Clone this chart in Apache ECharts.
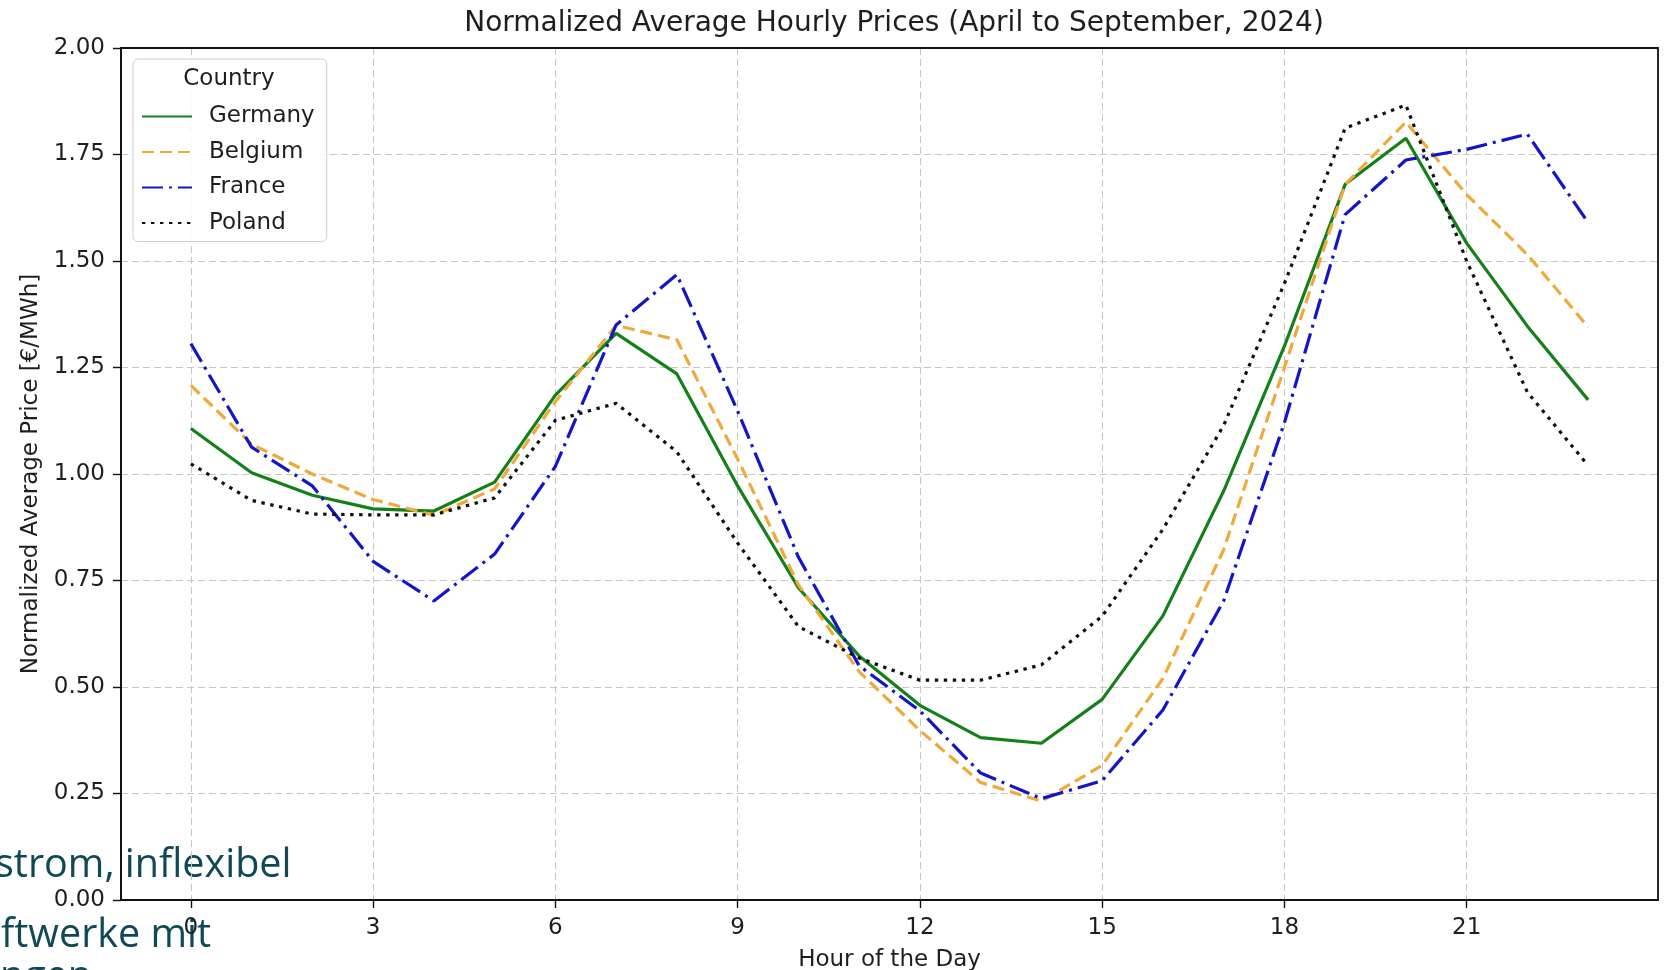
<!DOCTYPE html>
<html>
<head>
<meta charset="utf-8">
<script src="https://cdn.jsdelivr.net/npm/echarts@6/dist/echarts.min.js"></script>
<style>
html,body{margin:0;padding:0;background:#ffffff;}
#chart{width:1666px;height:970px;}
</style>
</head>
<body>
<div id="chart"></div>
<script>
// ---- data ----
const hours = [0,1,2,3,4,5,6,7,8,9,10,11,12,13,14,15,16,17,18,19,20,21,22,23];
const countries = ['Germany','Belgium','France','Poland'];
const germany = [1.107,1.003,0.950,0.918,0.913,0.981,1.185,1.330,1.235,0.972,0.733,0.573,0.457,0.381,0.368,0.471,0.667,0.960,1.300,1.680,1.788,1.542,1.347,1.174];
const belgium = [1.208,1.070,1.000,0.940,0.903,0.965,1.170,1.349,1.315,1.035,0.740,0.536,0.398,0.276,0.232,0.316,0.520,0.822,1.250,1.680,1.826,1.656,1.515,1.345];
const france  = [1.306,1.063,0.972,0.795,0.702,0.812,1.018,1.350,1.468,1.148,0.805,0.550,0.444,0.298,0.238,0.280,0.446,0.702,1.120,1.609,1.737,1.762,1.798,1.590];
const poland  = [1.024,0.938,0.906,0.904,0.904,0.944,1.126,1.166,1.052,0.838,0.642,0.568,0.516,0.516,0.552,0.666,0.870,1.114,1.447,1.812,1.866,1.500,1.192,1.020];
const xTickValues = [0,3,6,9,12,15,18,21];
const titleText = 'Normalized Average Hourly Prices (April to September, 2024)';
const xName = 'Hour of the Day';
const yName = 'Normalized Average Price [€/MWh]';
const legendTitle = 'Country';
const overlayLines = ['strom, inflexibel', 'ftwerke mit', 'ngen'];

// ---- styles ----
const FONT = 'DejaVu Sans';
const TXT = '#1e1e1e';
const styles = {
  Germany: {color:'#14801a', type:'solid'},
  Belgium: {color:'#f0a93a', type:[12,6]},
  France:  {color:'#1414c8', type:[21,6,3,6]},
  Poland:  {color:'#101010', type:[3.4,5.6]}
};
const valuesByCountry = {Germany:germany, Belgium:belgium, France:france, Poland:poland};

const series = countries.map(name => ({
  name: name,
  type: 'line',
  data: hours.map((h,i) => [h, valuesByCountry[name][i]]),
  symbol: 'none',
  showSymbol: false,
  smooth: false,
  silent: true,
  lineStyle: {color: styles[name].color, width: 3.2, type: styles[name].type, cap: 'butt'},
  itemStyle: {color: styles[name].color}
}));

const chart = echarts.init(document.getElementById('chart'), null, {renderer:'canvas'});
chart.setOption({
  animation: false,
  backgroundColor: '#ffffff',
  title: {
    text: titleText,
    left: 889, top: 5, textAlign: 'center',
    textStyle: {fontFamily: FONT, fontSize: 28, fontWeight: 'normal', color: TXT}
  },
  grid: {
    left: 121, right: 8, top: 48, bottom: 70,
    outerBoundsMode: 'none', containLabel: false,
    show: true, borderColor: '#111', borderWidth: 1.8, backgroundColor: 'transparent', z: 3
  },
  legend: {
    data: countries,
    orient: 'vertical',
    left: 133, top: 59,
    itemWidth: 50, itemHeight: 14, itemGap: 12.5,
    padding: [46, 12, 7, 8],
    backgroundColor: 'rgba(255,255,255,0.85)',
    borderColor: '#cfcfcf', borderWidth: 1, borderRadius: 5,
    selectedMode: false,
    itemStyle: {opacity: 0, color: 'transparent', borderWidth: 0},
    textStyle: {fontFamily: FONT, fontSize: 23, color: TXT, padding: [0,0,0,12]}
  },
  xAxis: {
    type: 'value', min: -1.15, max: 24.15,
    name: xName, nameLocation: 'middle', nameGap: 49,
    nameTextStyle: {fontFamily: FONT, fontSize: 23, color: TXT},
    axisLine: {show: true, onZero: false, lineStyle: {color: '#111', width: 1.8}},
    axisTick: {show: true, inside: false, length: 8, customValues: xTickValues, lineStyle: {color: '#111', width: 1.4}},
    axisLabel: {customValues: xTickValues, margin: 17, fontFamily: FONT, fontSize: 23, color: TXT},
    splitLine: {show: true, lineStyle: {color: '#c6c6c6', width: 1, type: [7,4]}}
  },
  yAxis: {
    type: 'value', min: 0, max: 2, interval: 0.25,
    name: yName, nameLocation: 'middle', nameGap: 78,
    nameTextStyle: {fontFamily: FONT, fontSize: 23, color: TXT},
    axisLine: {show: true, onZero: false, lineStyle: {color: '#111', width: 1.8}},
    axisTick: {show: true, inside: false, length: 8, lineStyle: {color: '#111', width: 1.4}},
    axisLabel: {margin: 16, fontFamily: FONT, fontSize: 23, color: TXT, formatter: v => v.toFixed(2)},
    splitLine: {show: true, lineStyle: {color: '#c6c6c6', width: 1, type: [7,4]}}
  },
  graphic: [
    {type:'text', x: 229, y: 79, z: 10, silent: true, style: {text: legendTitle, font: '23px "DejaVu Sans"', fill: TXT, align: 'center', verticalAlign: 'middle'}},
    {type:'text', x: -5, y: 866, z: -1, silent: true, style: {text: overlayLines[0], font: '39.5px "Open Sans"', fill: '#0f4955', verticalAlign: 'middle'}},
    {type:'text', x: 1, y: 936, z: -1, silent: true, style: {text: overlayLines[1], font: '39.5px "Open Sans"', fill: '#0f4955', verticalAlign: 'middle'}},
    {type:'text', x: 0, y: 978, z: -1, silent: true, style: {text: overlayLines[2], font: '39.5px "Open Sans"', fill: '#0f4955', verticalAlign: 'middle'}}
  ],
  series: series
});
</script>
</body>
</html>
